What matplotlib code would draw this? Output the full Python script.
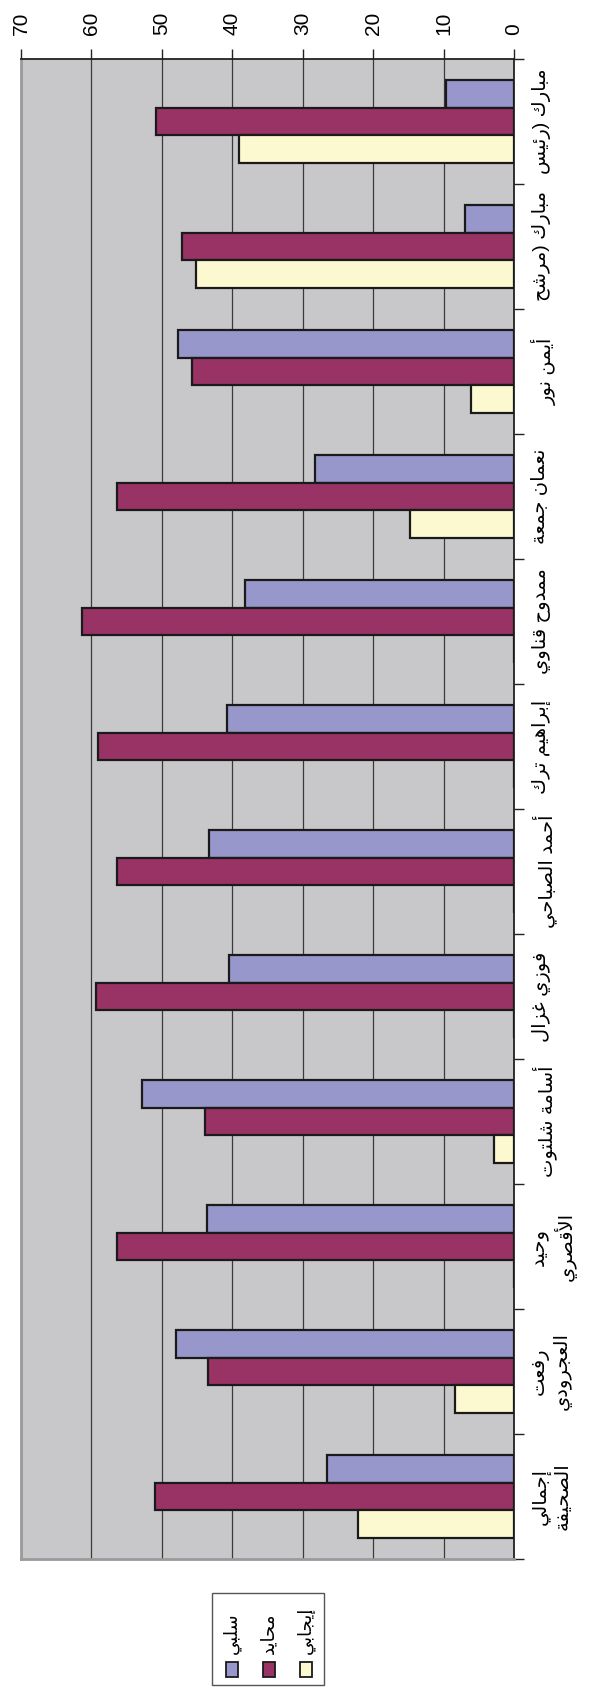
import numpy as np
import matplotlib
matplotlib.use('Agg')
import matplotlib.pyplot as plt
from matplotlib.patches import Rectangle

plt.rcParams['font.family'] = ['Liberation Sans', 'DejaVu Sans']

# data (top to bottom as in the picture)
categories = ['مبارك (رئيس', 'مبارك (مرشح', 'أيمن نور', 'نعمان جمعة', 'ممدوح قناوي',
              'إبراهيم ترك', 'أحمد الصباحي', 'فوزي غزال', 'أسامة شلتوت',
              'وحيد\nالأقصري', 'رفعت\nالعجرودي', 'إجمالي\nالصحيفة']
negative = [9.6, 7.0, 47.7, 28.3, 38.2, 40.8, 43.3, 40.5, 52.8, 43.6, 48.0, 26.6]
neutral = [50.8, 47.1, 45.7, 56.4, 61.3, 59.0, 56.3, 59.3, 43.9, 56.3, 43.5, 51.0]
positive = [39.1, 45.1, 6.1, 14.7, 0, 0, 0, 0, 2.9, 0, 8.4, 22.2]
series_names = ['سلبي', 'محايد', 'إيجابي']
colors = ['#9797CB', '#993366', '#FCF9D0']
value_ticks = [0, 10, 20, 30, 40, 50, 60, 70]

# minimal arabic shaping (matplotlib has no bidi / joining)
ARABIC = {
    'ا': (0xFE8D, 2), 'أ': (0xFE83, 2), 'إ': (0xFE87, 2), 'آ': (0xFE81, 2),
    'ب': (0xFE8F, 4), 'ة': (0xFE93, 2), 'ت': (0xFE95, 4), 'ث': (0xFE99, 4),
    'ج': (0xFE9D, 4), 'ح': (0xFEA1, 4), 'خ': (0xFEA5, 4), 'د': (0xFEA9, 2),
    'ذ': (0xFEAB, 2), 'ر': (0xFEAD, 2), 'ز': (0xFEAF, 2), 'س': (0xFEB1, 4),
    'ش': (0xFEB5, 4), 'ص': (0xFEB9, 4), 'ض': (0xFEBD, 4), 'ط': (0xFEC1, 4),
    'ظ': (0xFEC5, 4), 'ع': (0xFEC9, 4), 'غ': (0xFECD, 4), 'ف': (0xFED1, 4),
    'ق': (0xFED5, 4), 'ك': (0xFED9, 4), 'ل': (0xFEDD, 4), 'م': (0xFEE1, 4),
    'ن': (0xFEE5, 4), 'ه': (0xFEE9, 4), 'و': (0xFEED, 2), 'ى': (0xFEEF, 2),
    'ي': (0xFEF1, 4), 'ئ': (0xFE89, 4), 'ء': (0xFE80, 1),
}
LAM_ALEF = {'آ': 0xFEF5, 'أ': 0xFEF7, 'إ': 0xFEF9, 'ا': 0xFEFB}
MIRROR = {'(': ')', ')': '('}


def shape_line(text):
    out = []
    i = 0
    n = len(text)
    while i < n:
        c = text[i]
        if c not in ARABIC:
            out.append(MIRROR.get(c, c))
            i += 1
            continue
        prev = text[i - 1] if i > 0 else ''
        joins_prev = prev in ARABIC and ARABIC[prev][1] == 4
        if c == 'ل' and i + 1 < n and text[i + 1] in LAM_ALEF:
            out.append(chr(LAM_ALEF[text[i + 1]] + (1 if joins_prev else 0)))
            i += 2
            continue
        base, nf = ARABIC[c]
        nxt = text[i + 1] if i + 1 < n else ''
        joins_next = nf == 4 and nxt in ARABIC
        if nf == 1:
            form = base
        elif joins_prev and joins_next:
            form = base + 3
        elif joins_prev:
            form = base + 1
        elif joins_next:
            form = base + 2
        else:
            form = base
        out.append(chr(form))
        i += 1
    return ''.join(reversed(out))


def shape(text):
    return '\n'.join(shape_line(t) for t in text.split('\n'))


W, H = 590, 1694
fig = plt.figure(figsize=(W / 100, H / 100), dpi=100)
left, right, top, bottom = 21, 514, 59, 1559
ax = fig.add_axes([left / W, 1 - bottom / H, (right - left) / W, (bottom - top) / H])
ax.set_facecolor('#C8C8CA')

y = np.arange(len(categories)) + 0.5
bh = 1 / 4.5
for k, vals in enumerate([negative, neutral, positive]):
    ax.barh(y + (k - 1) * bh, vals, height=bh, color=colors[k],
            edgecolor='#1a1a1a', linewidth=1.6, zorder=3)

ax.set_xlim(70, 0)
ax.set_ylim(len(categories), 0)

ax.set_xticks(value_ticks)
ax.set_xticklabels([str(v) for v in value_ticks])
ax.xaxis.tick_top()
ax.tick_params(axis='x', direction='out', length=7, width=1, pad=10,
               labelsize=15, labelrotation=90, color='#222222')
ax.grid(axis='x', color='#3a3a3a', linewidth=0.9, zorder=1)

ax.yaxis.tick_right()
ax.set_yticks(np.arange(len(categories) + 1))
ax.set_yticklabels([])
ax.set_yticks(y, minor=True)
ax.set_yticklabels([shape(c) for c in categories], minor=True)
ax.tick_params(axis='y', which='major', direction='out', length=7, width=1, color='#222222')
ax.tick_params(axis='y', which='minor', length=0, pad=13, labelsize=14)
for lbl in ax.get_yticklabels(minor=True):
    lbl.set_rotation(90)
    lbl.set_ha('left')
    lbl.set_va('center')
    lbl.set_multialignment('center')
    lbl.set_linespacing(1.25)

for s in ['top', 'right']:
    ax.spines[s].set_color('#222222')
    ax.spines[s].set_linewidth(1.3)
for s in ['left', 'bottom']:
    ax.spines[s].set_color('#9a9a9c')
    ax.spines[s].set_linewidth(2)

# legend (rotated like the rest of the chart)
def fx(px):
    return px / W


def fy(py):
    return 1 - py / H


fig.patches.append(Rectangle((fx(212), fy(1685)), fx(324) - fx(212), fy(1593) - fy(1685),
                             transform=fig.transFigure, facecolor='white',
                             edgecolor='#555555', linewidth=1))
for k, name in enumerate(series_names):
    cx = 232 + k * 37
    fig.patches.append(Rectangle((fx(cx - 6), fy(1677)), fx(12), 15 / H,
                                 transform=fig.transFigure, facecolor=colors[k],
                                 edgecolor='#1a1a1a', linewidth=1.3))
    fig.text(fx(cx), fy(1654), shape(name), rotation=90, ha='center', va='bottom',
             fontsize=13)

fig.savefig('out.png', dpi=100, facecolor='white')
